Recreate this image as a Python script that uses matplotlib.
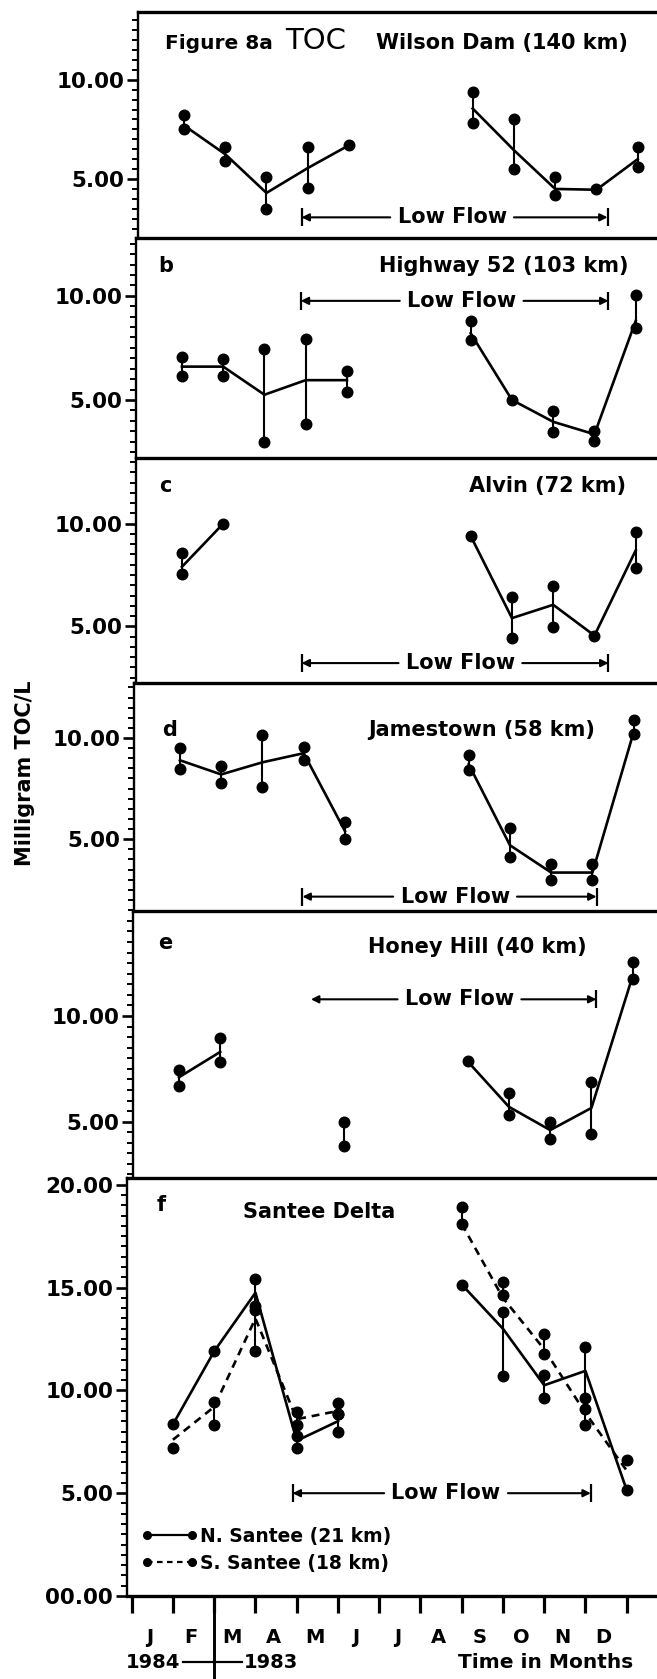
import numpy as np
import matplotlib
matplotlib.use('Agg')
import matplotlib.pyplot as plt
from matplotlib.lines import Line2D
from matplotlib.ticker import MultipleLocator, FixedLocator, FixedFormatter

plt.rcParams['font.family'] = ['DejaVu Sans']
plt.rcParams['font.weight'] = 'bold'

nan = np.nan
months = ['J', 'F', 'M', 'A', 'M', 'J', 'J', 'A', 'S', 'O', 'N', 'D']

# ---------------- data (x = month tick index) ----------------
# a: Wilson Dam
a_x = [1, 2, 3, 4, 5, 8, 9, 10, 11, 12]
a_hi = [8.2, 6.6, 5.1, 6.6, 6.7, 9.4, 8.0, 5.1, 4.5, 6.6]
a_lo = [7.5, 5.9, 3.5, 4.55, nan, 7.8, 5.5, 4.2, nan, 5.6]
a_line = [7.7, 6.25, 4.3, 5.55, 6.7, 8.55, 6.45, 4.5, 4.46, 6.0]

# b: Highway 52
b_x = [1, 2, 3, 4, 5, 8, 9, 10, 11, 12]
b_hi = [7.05, 6.95, 7.45, 7.95, 6.4, 8.8, 5.0, 4.45, 3.5, 10.05]
b_lo = [6.15, 6.15, 3.0, 3.85, 5.4, 7.9, nan, 3.45, 3.05, 8.45]
b_line = [6.6, 6.6, 5.25, 5.95, 5.95, 8.2, 5.0, 3.95, 3.35, 8.8]

# c: Alvin
c_x = [1, 2, 8, 9, 10, 11, 12]
c_hi = [8.55, 10.0, 9.4, 6.45, 6.95, 4.55, 9.6]
c_lo = [7.55, nan, nan, 4.45, 4.95, nan, 7.85]
c_line = [7.9, 10.0, 9.4, 5.4, 6.05, 4.55, 8.7]

# d: Jamestown
d_x = [1, 2, 3, 4, 5, 8, 9, 10, 11, 12]
d_hi = [9.5, 8.6, 10.15, 9.55, 5.85, 9.15, 5.55, 3.75, 3.75, 10.9]
d_lo = [8.45, 7.8, 7.6, 8.9, 5.0, 8.4, 4.1, 3.0, 3.0, 10.2]
d_line = [8.9, 8.2, 8.8, 9.25, 5.4, 8.7, 4.7, 3.35, 3.35, 10.3]

# e: Honey Hill
e_x = [1, 2, 5, 8, 9, 10, 11, 12]
e_hi = [7.45, 8.95, 5.0, 7.85, 6.35, 5.0, 6.9, 12.55]
e_lo = [6.7, 7.8, 3.85, nan, 5.3, 4.2, 4.4, 11.75]
e_line = [7.1, 8.3, nan, 7.85, 5.7, 4.6, 5.65, 11.9]

# f: Santee Delta
f_x = [1, 2, 3, 4, 5, 8, 9, 10, 11, 12]
fn_hi = [8.35, 11.9, 15.4, 7.8, 8.85, 15.15, 13.8, 10.75, 12.1, 5.15]
fn_lo = [nan, nan, 14.1, 7.2, 8.0, nan, 10.7, 9.65, 9.65, nan]
fn_line = [8.35, 11.9, 14.75, 7.55, 8.5, 15.15, 13.0, 10.25, 10.95, 5.15]
fs_hi = [7.2, 9.45, 13.9, 8.95, 9.4, 18.9, 15.25, 12.75, 9.1, 6.6]
fs_lo = [nan, 8.3, 11.9, 8.3, 8.85, 18.1, 14.65, 11.75, 8.3, nan]
fs_line = [7.6, 9.2, 13.5, 8.6, 9.0, 18.1, 14.5, 12.0, 8.9, 6.1]

# ---------------- layout (pixels) ----------------
W, H, DPI = 657, 1679, 100
PPM = 41.25      # px per month
OFF = 4.7        # px from axis to tick 0

fig = plt.figure(figsize=(W / DPI, H / DPI), dpi=DPI)


def make_ax(left, top, bottom, ylim):
    ax = fig.add_axes([left / W, 1 - bottom / H, (W - left) / W, (bottom - top) / H])
    ax.set_xlim(-OFF / PPM, (W - left - OFF) / PPM)
    ax.set_ylim(*ylim)
    ax.spines['right'].set_visible(False)
    ax.spines['bottom'].set_visible(False)
    ax.spines['top'].set_linewidth(2.4)
    ax.spines['left'].set_linewidth(1.7)
    ax.set_xticks([])
    ax.yaxis.set_minor_locator(MultipleLocator(0.5))
    ax.tick_params(axis='y', which='major', direction='out', length=8, width=1.9,
                   labelsize=15.5, pad=2)
    ax.tick_params(axis='y', which='minor', direction='out', length=4.5, width=1.4)
    ax.patch.set_alpha(0)
    return ax


def draw(ax, x, hi, lo, line, ls='-'):
    x = np.asarray(x, float)
    hi = np.asarray(hi, float)
    lo = np.asarray(lo, float)
    line = np.asarray(line, float)
    for xi, h, l in zip(x, hi, lo):
        if not np.isnan(l):
            ax.plot([xi, xi], [l, h], color='k', lw=1.5, solid_capstyle='butt')
    ax.plot(x, hi, 'o', color='k', ms=7.6)
    ax.plot(x, lo, 'o', color='k', ms=7.6)
    # connect consecutive months
    start = 0
    for i in range(1, len(x) + 1):
        if i == len(x) or x[i] - x[i - 1] != 1:
            xs, ys = x[start:i], line[start:i]
            m = ~np.isnan(ys)
            if m.sum() > 1:
                ax.plot(xs[m], ys[m], color='k', lw=1.9, ls=ls)
            start = i


def low_flow(ax, y, x0, x1, xc, bar_left=True):
    half = 1.5
    ax.text(xc, y, 'Low Flow', ha='center', va='center', fontsize=15)
    ap = dict(arrowstyle='-|>', color='k', lw=1.5, mutation_scale=11,
              shrinkA=0, shrinkB=0)
    ax.annotate('', xy=(x0, y), xytext=(xc - half, y), arrowprops=ap)
    ax.annotate('', xy=(x1, y), xytext=(xc + half, y), arrowprops=ap)
    if bar_left:
        ax.plot([x0], [y], marker='|', ms=13, mew=1.6, color='k')
    ax.plot([x1], [y], marker='|', ms=13, mew=1.6, color='k')


def yticks(ax, vals, labels):
    ax.yaxis.set_major_locator(FixedLocator(vals))
    ax.yaxis.set_major_formatter(FixedFormatter(labels))


# ---- panel a ----
axa = make_ax(138, 12, 238, (2.03, 13.41))
yticks(axa, [5, 10], ['5.00', '10.00'])
draw(axa, a_x, a_hi, a_lo, a_line)
low_flow(axa, 3.07, 3.85, 11.27, 7.5)
axa.text(0.55, 11.56, 'Figure 8a', fontsize=14.5, va='baseline', ha='left')
axa.text(3.45, 11.56, 'TOC', fontsize=21, fontweight='normal', va='baseline', ha='left')
axa.text(11.77, 11.56, 'Wilson Dam (140 km)', fontsize=15, va='baseline', ha='right')

# ---- panel b ----
axb = make_ax(136, 238, 458, (2.21, 12.78))
yticks(axb, [5, 10], ['5.00', '10.00'])
draw(axb, b_x, b_hi, b_lo, b_line)
low_flow(axb, 9.76, 3.88, 11.34, 7.78)
axb.text(0.6, 11.45, 'b', fontsize=15, va='center', ha='center')
axb.text(11.82, 11.45, 'Highway 52 (103 km)', fontsize=15, va='center', ha='right')

# ---- panel c ----
axc = make_ax(136, 458, 683, (2.24, 13.2))
yticks(axc, [5, 10], ['5.00', '10.00'])
draw(axc, c_x, c_hi, c_lo, c_line)
low_flow(axc, 3.21, 3.9, 11.34, 7.75)
axc.text(0.6, 11.82, 'c', fontsize=15, va='center', ha='center')
axc.text(11.77, 11.82, 'Alvin (72 km)', fontsize=15, va='center', ha='right')

# ---- panel d ----
axd = make_ax(134, 683, 911, (1.45, 12.72))
yticks(axd, [5, 10], ['5.00', '10.00'])
draw(axd, d_x, d_hi, d_lo, d_line)
low_flow(axd, 2.16, 3.97, 11.1, 7.67)
axd.text(0.75, 10.41, 'd', fontsize=15, va='center', ha='center')
axd.text(11.06, 10.41, 'Jamestown (58 km)', fontsize=15, va='center', ha='right')

# ---- panel e ----
axe = make_ax(133, 911, 1177, (2.38, 14.97))
yticks(axe, [5, 10], ['5.00', '10.00'])
draw(axe, e_x, e_hi, e_lo, e_line)
low_flow(axe, 10.79, 4.2, 11.12, 7.8, bar_left=False)
axe.text(0.67, 13.44, 'e', fontsize=15, va='center', ha='center')
axe.text(10.88, 13.28, 'Honey Hill (40 km)', fontsize=15, va='center', ha='right')

# ---- panel f ----
axf = make_ax(127, 1178, 1596, (0, 20.33))
yticks(axf, [0, 5, 10, 15, 20], ['00.00', '5.00', '10.00', '15.00', '20.00'])
axf.spines['bottom'].set_visible(True)
axf.spines['bottom'].set_linewidth(2.4)
draw(axf, f_x, fn_hi, fn_lo, fn_line, ls='-')
draw(axf, f_x, fs_hi, fs_lo, fs_line, ls=(0, (3, 2.2)))
low_flow(axf, 5.0, 3.9, 11.13, 7.62)
axf.text(0.72, 19.03, 'f', fontsize=15, va='center', ha='center')
axf.text(4.55, 18.7, 'Santee Delta', fontsize=15, va='center', ha='center')

axf.set_xticks(np.arange(13))
axf.set_xticklabels([])
axf.set_xticks(np.arange(12) + 0.44, minor=True)
axf.set_xticklabels(months, minor=True)
axf.tick_params(axis='x', which='major', direction='out', length=12, width=2.3)
axf.tick_params(axis='x', which='minor', length=0, labelsize=14, pad=23)

hf = 1596 - 1178
tr = axf.get_xaxis_transform()
axf.plot([2, 2], [0, -(1679 - 1596) / hf], transform=tr, clip_on=False, color='k', lw=2.1)
yy = -(1662 - 1596) / hf
axf.plot([1.25, 2.67], [yy, yy], transform=tr, clip_on=False, color='k', lw=1.6)
axf.text(1.17, yy, '1984', transform=tr, ha='right', va='center', fontsize=14)
axf.text(2.71, yy, '1983', transform=tr, ha='left', va='center', fontsize=14)
axf.text(12.15, yy, 'Time in Months', transform=tr, ha='right', va='center', fontsize=14.5)

handles = [Line2D([], [], color='k', lw=1.6, ls='-', marker='o', ms=5.5),
           Line2D([], [], color='k', lw=1.6, ls=(0, (2.5, 2)), marker='o', ms=5.5)]
axf.legend(handles, ['N. Santee (21 km)', 'S. Santee (18 km)'], loc='lower left',
           bbox_to_anchor=(0.028, 0.055), numpoints=2, frameon=False, fontsize=13.5,
           handlelength=3.0, handletextpad=0.1, labelspacing=0.45, borderpad=0,
           borderaxespad=0)

fig.text(25 / W, 1 - 773 / H, 'Milligram TOC/L', rotation=90, ha='center', va='center',
         fontsize=15)

fig.savefig('out.png', dpi=DPI)
